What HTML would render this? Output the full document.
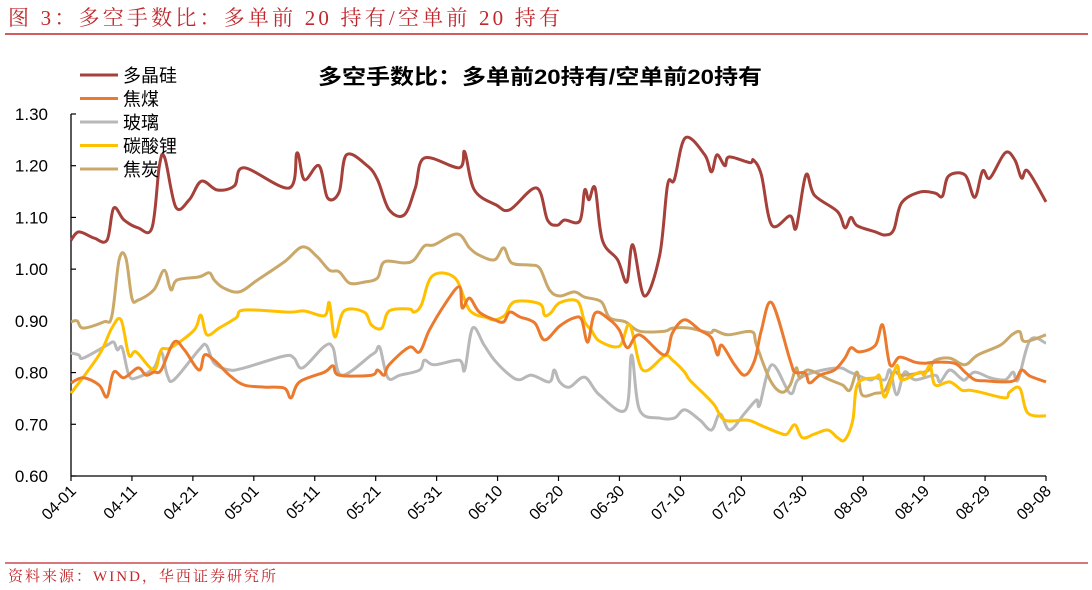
<!DOCTYPE html>
<html><head><meta charset="utf-8"><style>
html,body{margin:0;padding:0;background:#fff;width:1092px;height:590px;overflow:hidden}
svg{display:block}
</style></head><body>
<svg id="c" width="1092" height="590" xmlns="http://www.w3.org/2000/svg">
<text x="8" y="25" textLength="552" lengthAdjust="spacing" font-family="'Liberation Serif','Noto Serif CJK SC',serif" font-size="21" fill="#c0282d">图 3：多空手数比：多单前 20 持有/空单前 20 持有</text>
<line x1="5" y1="34" x2="1088" y2="34" stroke="#c0282d" stroke-width="1.5"/>
<text x="318" y="84" textLength="444" lengthAdjust="spacingAndGlyphs" font-family="'Liberation Sans','Noto Sans CJK SC',sans-serif" font-size="21" font-weight="bold" fill="#000">多空手数比：多单前20持有/空单前20持有</text>
<line x1="5" y1="563" x2="1088" y2="563" stroke="#c0282d" stroke-width="1.2"/>
<text x="8" y="581" textLength="268" lengthAdjust="spacing" font-family="'Liberation Serif','Noto Serif CJK SC',serif" font-size="15" fill="#c0282d">资料来源：WIND，华西证券研究所</text>
<g id="axes"></g>
<g id="series"></g>
<g id="legend"></g>
</svg>
<script>
const names=["多晶硅","焦煤","玻璃","碳酸锂","焦炭"];
const colors=["#a5403a","#ec7a2e","#b8b8b8","#ffc000","#c9a86a"];
const yTicks=[0.6,0.7,0.8,0.9,1.0,1.1,1.2,1.3];
const xTickLabels=["04-01","04-11","04-21","05-01","05-11","05-21","05-31","06-10","06-20","06-30","07-10","07-20","07-30","08-09","08-19","08-29","09-08"];
const siDays=[0,1.3,3.8,5.9,7,8.7,11,13.3,14.5,15.4,17.2,19.4,21.4,24,26.8,28.4,35.8,37.1,38.3,40.7,42.1,44,45.2,48.6,50.3,52.2,54.7,56.5,58,63.7,64.6,66.2,69.8,72,76.4,78.2,79.8,81,83.5,84.3,85,86,87.2,89.7,91.2,92.2,94.1,96.6,97.9,99,100.8,104,105.1,106,107.3,108,111.4,112,113.3,115,118,119,120.6,122,125.8,127,128,129,132,133.6,135,136.3,139.3,141.8,143,144,146.7,148.3,149.6,150.8,153.3,154.9,156,157,160];
const siVals=[1.056,1.072,1.06,1.056,1.118,1.095,1.08,1.08,1.2,1.215,1.12,1.134,1.17,1.153,1.161,1.196,1.157,1.225,1.173,1.2,1.138,1.149,1.221,1.2,1.173,1.115,1.105,1.157,1.215,1.196,1.227,1.153,1.124,1.115,1.157,1.095,1.085,1.095,1.093,1.153,1.134,1.157,1.056,1.018,0.975,1.047,0.948,1.027,1.163,1.173,1.254,1.221,1.188,1.221,1.2,1.217,1.206,1.211,1.182,1.085,1.103,1.08,1.182,1.143,1.111,1.08,1.1,1.084,1.072,1.066,1.076,1.128,1.149,1.147,1.141,1.18,1.182,1.139,1.19,1.176,1.225,1.211,1.176,1.19,1.13];
const cmDays=[0,2,4.6,5.9,7,8.7,11,12.3,13.6,14.8,16.9,18.6,21,21.9,23.5,26,28.4,31.7,35,36.1,37.5,41.6,43,44,49.3,50.3,51.4,52.2,55.5,57.2,58.8,61.3,63.7,64.2,65.4,67,69.5,71,72,73.6,76.1,77.7,80.2,82.6,83.8,84.8,86,88.4,90,91.3,93.3,97.4,98.7,100.7,103.2,105.1,106.1,106.8,108.9,110.6,112.2,113.3,115,118,118.8,120.5,121.2,122.9,125.3,127,128,129.4,132,133.2,134.4,136,138.5,140,141.8,145,146.7,148.3,150,153.3,155,156,157.4,160];
const cmVals=[0.78,0.79,0.776,0.753,0.801,0.79,0.809,0.795,0.801,0.805,0.859,0.844,0.805,0.834,0.824,0.795,0.776,0.772,0.77,0.751,0.782,0.801,0.813,0.795,0.795,0.805,0.795,0.815,0.849,0.84,0.882,0.931,0.966,0.925,0.944,0.917,0.902,0.898,0.917,0.908,0.896,0.863,0.89,0.906,0.902,0.859,0.915,0.902,0.882,0.848,0.873,0.834,0.877,0.902,0.882,0.867,0.834,0.853,0.815,0.795,0.824,0.882,0.935,0.824,0.801,0.799,0.78,0.795,0.805,0.828,0.848,0.84,0.853,0.892,0.815,0.83,0.82,0.818,0.82,0.818,0.801,0.786,0.784,0.782,0.786,0.805,0.793,0.782];
const glDays=[0,1.3,2,5.9,7,7.6,8.4,9.5,10.8,13.6,14.8,15.8,16.9,21,22.2,23.5,26,28.4,35,36.6,38,41.6,43,44.4,49.3,50,50.7,52,54,57.2,58,59.6,63.7,64.6,65.9,67.8,69.5,72,73.6,75.6,78.5,79.3,80.2,81.8,84.3,86.7,91,92,93.3,96.6,99,100.7,103.2,105.1,106.5,108.1,110.6,112.5,113,115,118,119.3,122,126,127.8,131,132,133.6,134.4,135.5,136.8,138.5,141.8,142.6,144.2,145.9,146.7,148.3,150.8,153.3,154.6,155.4,157.4,160];
const glVals=[0.838,0.834,0.828,0.853,0.859,0.844,0.848,0.795,0.79,0.809,0.84,0.795,0.786,0.844,0.853,0.818,0.805,0.809,0.832,0.828,0.809,0.851,0.848,0.795,0.834,0.84,0.848,0.79,0.795,0.805,0.824,0.815,0.824,0.805,0.886,0.853,0.824,0.795,0.786,0.795,0.782,0.805,0.782,0.772,0.791,0.757,0.728,0.834,0.728,0.712,0.712,0.728,0.708,0.689,0.72,0.689,0.722,0.747,0.737,0.815,0.76,0.786,0.801,0.809,0.801,0.786,0.79,0.786,0.805,0.757,0.801,0.786,0.795,0.782,0.805,0.79,0.786,0.801,0.79,0.786,0.801,0.786,0.863,0.857];
const liDays=[0,4.6,6.7,8.2,9.5,10.7,13.6,14.8,16.4,20.2,21.3,22.3,24.3,27.1,28.4,35.8,38.3,41.6,42.4,43.3,44.8,48.1,49.3,51,52.2,55.5,56.3,57.5,59.3,63,65.4,68.3,69.5,71.2,72.8,76.9,77.7,78.7,80.2,83.1,84.3,85.4,86.7,90,91.7,93.8,97.4,98.7,100.7,101.5,104,105.6,107.3,111,113,114.2,116.3,117.5,118.8,120,122,124.2,125.8,127,128.3,129.1,132,132.7,133.6,135.5,136.3,139.3,140,141,141.8,144.2,146.2,147.5,149.2,153.3,154,155.7,157,160];
const liVals=[0.76,0.834,0.886,0.902,0.834,0.84,0.805,0.844,0.848,0.882,0.911,0.873,0.886,0.906,0.921,0.917,0.919,0.91,0.935,0.869,0.919,0.917,0.892,0.886,0.919,0.923,0.917,0.931,0.987,0.983,0.921,0.906,0.902,0.911,0.937,0.933,0.911,0.915,0.935,0.938,0.898,0.882,0.861,0.851,0.892,0.805,0.832,0.824,0.801,0.786,0.757,0.737,0.708,0.708,0.699,0.693,0.683,0.681,0.699,0.674,0.681,0.689,0.674,0.67,0.708,0.778,0.79,0.793,0.753,0.813,0.786,0.801,0.795,0.813,0.776,0.782,0.766,0.766,0.762,0.751,0.762,0.77,0.722,0.716];
const ckDays=[0,1,2,5.4,6.7,7.9,9,10,11,13.6,15.3,16.4,17.4,21,22.7,23.5,25,27.6,30.6,35,38,40.4,42.4,44,45.7,48.1,50.3,51.4,54.7,56.3,58,59.6,63.4,65.4,67,69.5,71,72.3,75.2,76.9,78.5,80.2,82.6,84.3,87,88.4,91,93.3,97.4,98.7,101.5,104.8,105.6,107.8,111.7,112.5,114.7,116.6,118,119,119.6,121,124.5,126.6,127.8,129,129.8,132,133.6,135,136.3,140,141,141.8,144.2,146.7,148.8,152.5,154.4,155.7,156.5,160];
const ckVals=[0.898,0.9,0.886,0.898,0.909,1.018,1.022,0.944,0.94,0.96,0.998,0.96,0.979,0.985,0.993,0.979,0.964,0.956,0.979,1.014,1.043,1.024,0.998,0.995,0.973,0.975,0.983,1.014,1.012,1.018,1.045,1.047,1.068,1.041,1.027,1.018,1.041,1.012,1.008,1.002,0.96,0.948,0.956,0.946,0.937,0.906,0.898,0.88,0.88,0.886,0.886,0.877,0.882,0.873,0.879,0.853,0.786,0.762,0.776,0.809,0.79,0.805,0.786,0.776,0.766,0.801,0.757,0.76,0.766,0.801,0.795,0.801,0.809,0.824,0.828,0.815,0.834,0.853,0.873,0.879,0.86,0.873];

const NS="http://www.w3.org/2000/svg";
const X0=71,X1=1046,Y0=476,Y1=114,DMAX=160,VMIN=0.6,VMAX=1.3;
function xs(d){return X0+(X1-X0)*d/DMAX;}
function ys(v){return Y0-(Y0-Y1)*(v-VMIN)/(VMAX-VMIN);}
function mk(tag,attrs,parent){const e=document.createElementNS(NS,tag);for(const k in attrs)e.setAttribute(k,attrs[k]);parent.appendChild(e);return e;}
const axes=document.getElementById('axes');
const F="'Liberation Sans','Noto Sans CJK SC',sans-serif";
let a=mk('line',{x1:X0,y1:Y1,x2:X0,y2:Y0,stroke:'#000','stroke-width':1.3},axes);


a=mk('line',{x1:X0,y1:Y0,x2:X1,y2:Y0,stroke:'#000','stroke-width':1.3},axes);


yTicks.forEach(v=>{
  const y=ys(v);
  const t=mk('line',{x1:X0,y1:y,x2:X0+5,y2:y,stroke:'#000','stroke-width':1.2},axes);
  
  
  const l=mk('text',{x:48,y:y+6,'text-anchor':'end','font-family':F,'font-size':17,fill:'#000'},axes);
  l.textContent=v.toFixed(2);
  
  
});
xTickLabels.forEach((s,i)=>{
  const x=xs(i*10);
  const t=mk('line',{x1:x,y1:Y0,x2:x,y2:Y0+5,stroke:'#000','stroke-width':1.2},axes);
  
  
  const l=mk('text',{x:x+6,y:Y0+16,'text-anchor':'end','font-family':F,'font-size':16,fill:'#000',transform:`rotate(-45 ${x+6} ${Y0+16})`},axes);
  l.textContent=s;
  
  
});
function smooth(pts){
  let d=`M${pts[0][0]},${pts[0][1]}`;
  for(let i=0;i<pts.length-1;i++){
    const p0=pts[i-1]||pts[i],p1=pts[i],p2=pts[i+1],p3=pts[i+2]||p2;
    const t=0.17;
    const c1=[p1[0]+(p2[0]-p0[0])*t,p1[1]+(p2[1]-p0[1])*t];
    const c2=[p2[0]-(p3[0]-p1[0])*t,p2[1]-(p3[1]-p1[1])*t];
    d+=` C${c1[0].toFixed(1)},${c1[1].toFixed(1)} ${c2[0].toFixed(1)},${c2[1].toFixed(1)} ${p2[0].toFixed(1)},${p2[1].toFixed(1)}`;
  }
  return d;
}
const sg=document.getElementById('series');
const all=[[siDays,siVals],[cmDays,cmVals],[glDays,glVals],[liDays,liVals],[ckDays,ckVals]];
const order=[2,4,3,1,0];
const slugs=['polysilicon-line','coking-coal-line','glass-line','lithium-carbonate-line','coke-line'];
order.forEach(i=>{
  const [dd,vv]=all[i];
  const pts=dd.map((d,k)=>[xs(d),ys(vv[k])]);
  const p=mk('path',{d:smooth(pts),fill:'none',stroke:colors[i],'stroke-width':3,'stroke-linejoin':'round'},sg);
  
  
});
const lg=document.getElementById('legend');
names.forEach((n,i)=>{
  const y=75+i*23.5;
  const g=mk('g',{},lg);
  
  
  mk('line',{x1:80,y1:y,x2:118,y2:y,stroke:colors[i],'stroke-width':3},g);
  const t=mk('text',{x:123,y:y+7,'font-family':F,'font-size':18,fill:'#000'},g);
  t.textContent=n;
});
</script>
</body></html>
